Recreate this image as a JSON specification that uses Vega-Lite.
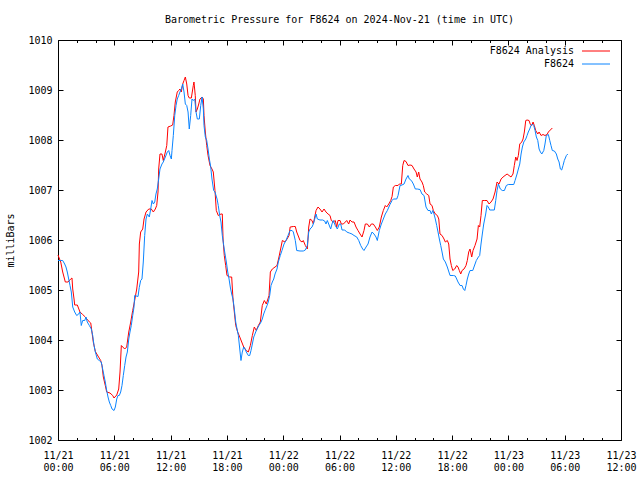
{
  "$schema": "https://vega.github.io/schema/vega-lite/v6.json",
  "autosize": "none",
  "width": 563,
  "height": 400,
  "padding": {"left": 58, "top": 40, "right": 19, "bottom": 40},
  "background": "white",
  "title": {"text": "Barometric Pressure for F8624 on 2024-Nov-21 (time in UTC)", "anchor": "middle", "offset": 10},
  "config": {
    "font": "DejaVu Sans Mono",
    "view": {"stroke": "#000000", "strokeWidth": 1},
    "title": {"font": "DejaVu Sans Mono", "fontSize": 10, "fontWeight": "normal", "color": "#000000"},
    "axis": {"labelFont": "DejaVu Sans Mono", "labelFontSize": 10, "labelColor": "#000000", "titleFont": "DejaVu Sans Mono", "titleFontSize": 10, "titleFontWeight": "normal", "titleColor": "#000000", "grid": false, "domain": false, "tickColor": "#000000", "tickWidth": 1, "labelFlush": false, "labelOverlap": false},
    "legend": {"labelFont": "DejaVu Sans Mono", "labelFontSize": 10, "labelColor": "#000000"}
  },
  "data": {"values": [
    {"s":"F8624 Analysis","t":0,"p":1005.70},{"s":"F8624 Analysis","t":0.29,"p":1005.56},{"s":"F8624 Analysis","t":0.50,"p":1005.36},{"s":"F8624 Analysis","t":0.78,"p":1005.16},{"s":"F8624 Analysis","t":1.07,"p":1005.16},{"s":"F8624 Analysis","t":1.35,"p":1005.22},{"s":"F8624 Analysis","t":1.49,"p":1005.24},{"s":"F8624 Analysis","t":1.57,"p":1005.02},{"s":"F8624 Analysis","t":1.71,"p":1004.82},{"s":"F8624 Analysis","t":1.78,"p":1004.70},{"s":"F8624 Analysis","t":2.06,"p":1004.70},{"s":"F8624 Analysis","t":2.34,"p":1004.56},{"s":"F8624 Analysis","t":2.63,"p":1004.51},{"s":"F8624 Analysis","t":2.91,"p":1004.46},{"s":"F8624 Analysis","t":3.20,"p":1004.39},{"s":"F8624 Analysis","t":3.49,"p":1004.34},{"s":"F8624 Analysis","t":3.62,"p":1004.16},{"s":"F8624 Analysis","t":3.76,"p":1003.96},{"s":"F8624 Analysis","t":3.98,"p":1003.77},{"s":"F8624 Analysis","t":4.26,"p":1003.68},{"s":"F8624 Analysis","t":4.55,"p":1003.59},{"s":"F8624 Analysis","t":4.69,"p":1003.49},{"s":"F8624 Analysis","t":4.83,"p":1003.26},{"s":"F8624 Analysis","t":5.04,"p":1003.09},{"s":"F8624 Analysis","t":5.19,"p":1002.96},{"s":"F8624 Analysis","t":5.54,"p":1002.94},{"s":"F8624 Analysis","t":5.83,"p":1002.89},{"s":"F8624 Analysis","t":5.97,"p":1002.84},{"s":"F8624 Analysis","t":6.26,"p":1002.90},{"s":"F8624 Analysis","t":6.47,"p":1003.02},{"s":"F8624 Analysis","t":6.61,"p":1003.36},{"s":"F8624 Analysis","t":6.75,"p":1003.89},{"s":"F8624 Analysis","t":7.11,"p":1003.82},{"s":"F8624 Analysis","t":7.32,"p":1003.86},{"s":"F8624 Analysis","t":7.54,"p":1004.16},{"s":"F8624 Analysis","t":7.75,"p":1004.36},{"s":"F8624 Analysis","t":7.96,"p":1004.59},{"s":"F8624 Analysis","t":8.17,"p":1004.79},{"s":"F8624 Analysis","t":8.39,"p":1005.02},{"s":"F8624 Analysis","t":8.60,"p":1005.36},{"s":"F8624 Analysis","t":8.67,"p":1005.92},{"s":"F8624 Analysis","t":8.81,"p":1006.16},{"s":"F8624 Analysis","t":9.03,"p":1006.22},{"s":"F8624 Analysis","t":9.17,"p":1006.42},{"s":"F8624 Analysis","t":9.38,"p":1006.56},{"s":"F8624 Analysis","t":9.67,"p":1006.62},{"s":"F8624 Analysis","t":9.94,"p":1006.62},{"s":"F8624 Analysis","t":10.16,"p":1006.56},{"s":"F8624 Analysis","t":10.37,"p":1006.62},{"s":"F8624 Analysis","t":10.52,"p":1006.69},{"s":"F8624 Analysis","t":10.66,"p":1006.96},{"s":"F8624 Analysis","t":10.73,"p":1007.42},{"s":"F8624 Analysis","t":10.87,"p":1007.72},{"s":"F8624 Analysis","t":11.08,"p":1007.72},{"s":"F8624 Analysis","t":11.22,"p":1007.59},{"s":"F8624 Analysis","t":11.44,"p":1007.76},{"s":"F8624 Analysis","t":11.59,"p":1007.89},{"s":"F8624 Analysis","t":11.72,"p":1008.26},{"s":"F8624 Analysis","t":12.01,"p":1008.28},{"s":"F8624 Analysis","t":12.22,"p":1008.30},{"s":"F8624 Analysis","t":12.36,"p":1008.49},{"s":"F8624 Analysis","t":12.50,"p":1008.76},{"s":"F8624 Analysis","t":12.71,"p":1008.96},{"s":"F8624 Analysis","t":12.86,"p":1008.99},{"s":"F8624 Analysis","t":13.00,"p":1009.02},{"s":"F8624 Analysis","t":13.14,"p":1008.96},{"s":"F8624 Analysis","t":13.29,"p":1009.12},{"s":"F8624 Analysis","t":13.43,"p":1009.19},{"s":"F8624 Analysis","t":13.57,"p":1009.26},{"s":"F8624 Analysis","t":13.72,"p":1009.12},{"s":"F8624 Analysis","t":13.86,"p":1008.89},{"s":"F8624 Analysis","t":13.99,"p":1008.84},{"s":"F8624 Analysis","t":14.21,"p":1008.84},{"s":"F8624 Analysis","t":14.42,"p":1009.09},{"s":"F8624 Analysis","t":14.49,"p":1009.16},{"s":"F8624 Analysis","t":14.63,"p":1008.89},{"s":"F8624 Analysis","t":14.71,"p":1008.56},{"s":"F8624 Analysis","t":14.85,"p":1008.62},{"s":"F8624 Analysis","t":15.00,"p":1008.72},{"s":"F8624 Analysis","t":15.13,"p":1008.82},{"s":"F8624 Analysis","t":15.35,"p":1008.86},{"s":"F8624 Analysis","t":15.49,"p":1008.82},{"s":"F8624 Analysis","t":15.56,"p":1008.49},{"s":"F8624 Analysis","t":15.70,"p":1008.16},{"s":"F8624 Analysis","t":15.85,"p":1007.89},{"s":"F8624 Analysis","t":15.99,"p":1007.69},{"s":"F8624 Analysis","t":16.20,"p":1007.49},{"s":"F8624 Analysis","t":16.41,"p":1007.42},{"s":"F8624 Analysis","t":16.55,"p":1007.36},{"s":"F8624 Analysis","t":16.73,"p":1006.99},{"s":"F8624 Analysis","t":16.87,"p":1006.59},{"s":"F8624 Analysis","t":17.08,"p":1006.49},{"s":"F8624 Analysis","t":17.37,"p":1006.52},{"s":"F8624 Analysis","t":17.51,"p":1006.52},{"s":"F8624 Analysis","t":17.59,"p":1006.02},{"s":"F8624 Analysis","t":17.72,"p":1005.69},{"s":"F8624 Analysis","t":17.87,"p":1005.49},{"s":"F8624 Analysis","t":18.01,"p":1005.29},{"s":"F8624 Analysis","t":18.30,"p":1005.26},{"s":"F8624 Analysis","t":18.51,"p":1005.26},{"s":"F8624 Analysis","t":18.65,"p":1004.82},{"s":"F8624 Analysis","t":18.79,"p":1004.56},{"s":"F8624 Analysis","t":18.94,"p":1004.29},{"s":"F8624 Analysis","t":19.15,"p":1004.16},{"s":"F8624 Analysis","t":19.37,"p":1004.06},{"s":"F8624 Analysis","t":19.58,"p":1003.96},{"s":"F8624 Analysis","t":19.79,"p":1003.86},{"s":"F8624 Analysis","t":20.07,"p":1003.79},{"s":"F8624 Analysis","t":20.28,"p":1003.76},{"s":"F8624 Analysis","t":20.50,"p":1003.89},{"s":"F8624 Analysis","t":20.71,"p":1004.09},{"s":"F8624 Analysis","t":20.92,"p":1004.26},{"s":"F8624 Analysis","t":21.13,"p":1004.19},{"s":"F8624 Analysis","t":21.35,"p":1004.29},{"s":"F8624 Analysis","t":21.56,"p":1004.36},{"s":"F8624 Analysis","t":21.77,"p":1004.69},{"s":"F8624 Analysis","t":21.99,"p":1004.79},{"s":"F8624 Analysis","t":22.20,"p":1004.72},{"s":"F8624 Analysis","t":22.49,"p":1004.89},{"s":"F8624 Analysis","t":22.63,"p":1005.36},{"s":"F8624 Analysis","t":22.84,"p":1005.42},{"s":"F8624 Analysis","t":23.13,"p":1005.46},{"s":"F8624 Analysis","t":23.34,"p":1005.49},{"s":"F8624 Analysis","t":23.55,"p":1005.66},{"s":"F8624 Analysis","t":23.77,"p":1005.86},{"s":"F8624 Analysis","t":23.91,"p":1005.99},{"s":"F8624 Analysis","t":24.19,"p":1005.96},{"s":"F8624 Analysis","t":24.41,"p":1006.02},{"s":"F8624 Analysis","t":24.62,"p":1006.09},{"s":"F8624 Analysis","t":24.74,"p":1006.26},{"s":"F8624 Analysis","t":25.08,"p":1006.27},{"s":"F8624 Analysis","t":25.29,"p":1006.27},{"s":"F8624 Analysis","t":25.44,"p":1006.16},{"s":"F8624 Analysis","t":25.65,"p":1006.06},{"s":"F8624 Analysis","t":25.79,"p":1005.99},{"s":"F8624 Analysis","t":26.01,"p":1005.96},{"s":"F8624 Analysis","t":26.14,"p":1005.99},{"s":"F8624 Analysis","t":26.36,"p":1005.89},{"s":"F8624 Analysis","t":26.57,"p":1005.82},{"s":"F8624 Analysis","t":26.72,"p":1006.26},{"s":"F8624 Analysis","t":26.86,"p":1006.42},{"s":"F8624 Analysis","t":27.07,"p":1006.39},{"s":"F8624 Analysis","t":27.21,"p":1006.32},{"s":"F8624 Analysis","t":27.36,"p":1006.46},{"s":"F8624 Analysis","t":27.50,"p":1006.59},{"s":"F8624 Analysis","t":27.71,"p":1006.66},{"s":"F8624 Analysis","t":27.92,"p":1006.62},{"s":"F8624 Analysis","t":28.14,"p":1006.56},{"s":"F8624 Analysis","t":28.35,"p":1006.62},{"s":"F8624 Analysis","t":28.56,"p":1006.56},{"s":"F8624 Analysis","t":28.78,"p":1006.52},{"s":"F8624 Analysis","t":28.99,"p":1006.49},{"s":"F8624 Analysis","t":29.13,"p":1006.39},{"s":"F8624 Analysis","t":29.34,"p":1006.36},{"s":"F8624 Analysis","t":29.55,"p":1006.39},{"s":"F8624 Analysis","t":29.70,"p":1006.26},{"s":"F8624 Analysis","t":29.84,"p":1006.39},{"s":"F8624 Analysis","t":30.06,"p":1006.39},{"s":"F8624 Analysis","t":30.19,"p":1006.32},{"s":"F8624 Analysis","t":30.41,"p":1006.32},{"s":"F8624 Analysis","t":30.62,"p":1006.36},{"s":"F8624 Analysis","t":30.77,"p":1006.39},{"s":"F8624 Analysis","t":30.98,"p":1006.32},{"s":"F8624 Analysis","t":31.12,"p":1006.40},{"s":"F8624 Analysis","t":31.33,"p":1006.36},{"s":"F8624 Analysis","t":31.55,"p":1006.36},{"s":"F8624 Analysis","t":31.76,"p":1006.26},{"s":"F8624 Analysis","t":31.97,"p":1006.19},{"s":"F8624 Analysis","t":32.19,"p":1006.12},{"s":"F8624 Analysis","t":32.40,"p":1006.06},{"s":"F8624 Analysis","t":32.61,"p":1006.19},{"s":"F8624 Analysis","t":32.75,"p":1006.32},{"s":"F8624 Analysis","t":32.97,"p":1006.32},{"s":"F8624 Analysis","t":33.18,"p":1006.26},{"s":"F8624 Analysis","t":33.39,"p":1006.32},{"s":"F8624 Analysis","t":33.60,"p":1006.32},{"s":"F8624 Analysis","t":33.82,"p":1006.26},{"s":"F8624 Analysis","t":34.03,"p":1006.19},{"s":"F8624 Analysis","t":34.24,"p":1006.26},{"s":"F8624 Analysis","t":34.46,"p":1006.46},{"s":"F8624 Analysis","t":34.67,"p":1006.59},{"s":"F8624 Analysis","t":34.88,"p":1006.69},{"s":"F8624 Analysis","t":35.03,"p":1006.66},{"s":"F8624 Analysis","t":35.25,"p":1006.72},{"s":"F8624 Analysis","t":35.46,"p":1006.79},{"s":"F8624 Analysis","t":35.60,"p":1006.87},{"s":"F8624 Analysis","t":35.74,"p":1007.06},{"s":"F8624 Analysis","t":35.95,"p":1007.09},{"s":"F8624 Analysis","t":36.24,"p":1007.09},{"s":"F8624 Analysis","t":36.38,"p":1007.12},{"s":"F8624 Analysis","t":36.59,"p":1007.12},{"s":"F8624 Analysis","t":36.74,"p":1007.49},{"s":"F8624 Analysis","t":36.88,"p":1007.59},{"s":"F8624 Analysis","t":37.09,"p":1007.57},{"s":"F8624 Analysis","t":37.30,"p":1007.49},{"s":"F8624 Analysis","t":37.52,"p":1007.50},{"s":"F8624 Analysis","t":37.73,"p":1007.49},{"s":"F8624 Analysis","t":37.94,"p":1007.42},{"s":"F8624 Analysis","t":38.16,"p":1007.36},{"s":"F8624 Analysis","t":38.29,"p":1007.26},{"s":"F8624 Analysis","t":38.44,"p":1007.36},{"s":"F8624 Analysis","t":38.58,"p":1007.22},{"s":"F8624 Analysis","t":38.79,"p":1007.16},{"s":"F8624 Analysis","t":38.93,"p":1007.09},{"s":"F8624 Analysis","t":39.08,"p":1006.96},{"s":"F8624 Analysis","t":39.30,"p":1006.92},{"s":"F8624 Analysis","t":39.51,"p":1006.89},{"s":"F8624 Analysis","t":39.65,"p":1006.72},{"s":"F8624 Analysis","t":39.86,"p":1006.69},{"s":"F8624 Analysis","t":40.00,"p":1006.59},{"s":"F8624 Analysis","t":40.21,"p":1006.52},{"s":"F8624 Analysis","t":40.43,"p":1006.49},{"s":"F8624 Analysis","t":40.58,"p":1006.42},{"s":"F8624 Analysis","t":40.71,"p":1006.12},{"s":"F8624 Analysis","t":40.93,"p":1006.09},{"s":"F8624 Analysis","t":41.14,"p":1006.02},{"s":"F8624 Analysis","t":41.28,"p":1005.96},{"s":"F8624 Analysis","t":41.49,"p":1005.99},{"s":"F8624 Analysis","t":41.64,"p":1005.92},{"s":"F8624 Analysis","t":41.78,"p":1005.62},{"s":"F8624 Analysis","t":41.92,"p":1005.49},{"s":"F8624 Analysis","t":42.07,"p":1005.39},{"s":"F8624 Analysis","t":42.28,"p":1005.42},{"s":"F8624 Analysis","t":42.49,"p":1005.49},{"s":"F8624 Analysis","t":42.63,"p":1005.46},{"s":"F8624 Analysis","t":42.77,"p":1005.39},{"s":"F8624 Analysis","t":42.92,"p":1005.32},{"s":"F8624 Analysis","t":43.06,"p":1005.39},{"s":"F8624 Analysis","t":43.27,"p":1005.42},{"s":"F8624 Analysis","t":43.48,"p":1005.49},{"s":"F8624 Analysis","t":43.62,"p":1005.59},{"s":"F8624 Analysis","t":43.77,"p":1005.76},{"s":"F8624 Analysis","t":43.91,"p":1005.82},{"s":"F8624 Analysis","t":44.09,"p":1005.66},{"s":"F8624 Analysis","t":44.23,"p":1005.79},{"s":"F8624 Analysis","t":44.44,"p":1005.89},{"s":"F8624 Analysis","t":44.66,"p":1006.02},{"s":"F8624 Analysis","t":44.80,"p":1006.29},{"s":"F8624 Analysis","t":44.94,"p":1006.26},{"s":"F8624 Analysis","t":45.08,"p":1006.49},{"s":"F8624 Analysis","t":45.22,"p":1006.79},{"s":"F8624 Analysis","t":45.43,"p":1006.79},{"s":"F8624 Analysis","t":45.72,"p":1006.79},{"s":"F8624 Analysis","t":45.94,"p":1006.72},{"s":"F8624 Analysis","t":46.15,"p":1006.76},{"s":"F8624 Analysis","t":46.36,"p":1006.82},{"s":"F8624 Analysis","t":46.58,"p":1006.96},{"s":"F8624 Analysis","t":46.79,"p":1007.16},{"s":"F8624 Analysis","t":47.00,"p":1007.12},{"s":"F8624 Analysis","t":47.22,"p":1007.22},{"s":"F8624 Analysis","t":47.43,"p":1007.26},{"s":"F8624 Analysis","t":47.64,"p":1007.29},{"s":"F8624 Analysis","t":47.86,"p":1007.32},{"s":"F8624 Analysis","t":48.07,"p":1007.29},{"s":"F8624 Analysis","t":48.28,"p":1007.26},{"s":"F8624 Analysis","t":48.49,"p":1007.32},{"s":"F8624 Analysis","t":48.63,"p":1007.49},{"s":"F8624 Analysis","t":48.78,"p":1007.66},{"s":"F8624 Analysis","t":48.92,"p":1007.59},{"s":"F8624 Analysis","t":49.06,"p":1007.69},{"s":"F8624 Analysis","t":49.21,"p":1007.92},{"s":"F8624 Analysis","t":49.42,"p":1007.96},{"s":"F8624 Analysis","t":49.56,"p":1008.02},{"s":"F8624 Analysis","t":49.70,"p":1008.16},{"s":"F8624 Analysis","t":49.85,"p":1008.39},{"s":"F8624 Analysis","t":49.99,"p":1008.40},{"s":"F8624 Analysis","t":50.20,"p":1008.39},{"s":"F8624 Analysis","t":50.34,"p":1008.31},{"s":"F8624 Analysis","t":50.49,"p":1008.29},{"s":"F8624 Analysis","t":50.63,"p":1008.36},{"s":"F8624 Analysis","t":50.76,"p":1008.29},{"s":"F8624 Analysis","t":50.91,"p":1008.19},{"s":"F8624 Analysis","t":51.13,"p":1008.12},{"s":"F8624 Analysis","t":51.27,"p":1008.16},{"s":"F8624 Analysis","t":51.48,"p":1008.09},{"s":"F8624 Analysis","t":51.69,"p":1008.11},{"s":"F8624 Analysis","t":51.90,"p":1008.09},{"s":"F8624 Analysis","t":52.12,"p":1008.11},{"s":"F8624 Analysis","t":52.26,"p":1008.16},{"s":"F8624 Analysis","t":52.47,"p":1008.20},{"s":"F8624 Analysis","t":52.68,"p":1008.24},
    {"s":"F8624","t":0,"p":1005.59},{"s":"F8624","t":0.29,"p":1005.59},{"s":"F8624","t":0.50,"p":1005.59},{"s":"F8624","t":0.71,"p":1005.52},{"s":"F8624","t":0.85,"p":1005.46},{"s":"F8624","t":0.99,"p":1005.36},{"s":"F8624","t":1.14,"p":1005.22},{"s":"F8624","t":1.28,"p":1005.09},{"s":"F8624","t":1.42,"p":1004.96},{"s":"F8624","t":1.57,"p":1004.66},{"s":"F8624","t":1.78,"p":1004.56},{"s":"F8624","t":1.99,"p":1004.49},{"s":"F8624","t":2.21,"p":1004.52},{"s":"F8624","t":2.34,"p":1004.56},{"s":"F8624","t":2.48,"p":1004.29},{"s":"F8624","t":2.63,"p":1004.39},{"s":"F8624","t":2.85,"p":1004.39},{"s":"F8624","t":2.98,"p":1004.46},{"s":"F8624","t":3.12,"p":1004.36},{"s":"F8624","t":3.34,"p":1004.29},{"s":"F8624","t":3.55,"p":1004.22},{"s":"F8624","t":3.70,"p":1004.09},{"s":"F8624","t":3.84,"p":1003.89},{"s":"F8624","t":3.98,"p":1003.76},{"s":"F8624","t":4.19,"p":1003.62},{"s":"F8624","t":4.40,"p":1003.59},{"s":"F8624","t":4.61,"p":1003.56},{"s":"F8624","t":4.76,"p":1003.42},{"s":"F8624","t":4.90,"p":1003.29},{"s":"F8624","t":5.04,"p":1003.16},{"s":"F8624","t":5.19,"p":1002.99},{"s":"F8624","t":5.33,"p":1002.86},{"s":"F8624","t":5.47,"p":1002.76},{"s":"F8624","t":5.62,"p":1002.69},{"s":"F8624","t":5.76,"p":1002.62},{"s":"F8624","t":5.97,"p":1002.59},{"s":"F8624","t":6.11,"p":1002.66},{"s":"F8624","t":6.26,"p":1002.82},{"s":"F8624","t":6.39,"p":1002.89},{"s":"F8624","t":6.53,"p":1002.89},{"s":"F8624","t":6.68,"p":1002.96},{"s":"F8624","t":6.82,"p":1003.09},{"s":"F8624","t":6.96,"p":1003.29},{"s":"F8624","t":7.11,"p":1003.49},{"s":"F8624","t":7.25,"p":1003.66},{"s":"F8624","t":7.39,"p":1003.76},{"s":"F8624","t":7.54,"p":1004.02},{"s":"F8624","t":7.67,"p":1004.16},{"s":"F8624","t":7.81,"p":1004.29},{"s":"F8624","t":7.96,"p":1004.49},{"s":"F8624","t":8.10,"p":1004.66},{"s":"F8624","t":8.17,"p":1004.89},{"s":"F8624","t":8.53,"p":1004.87},{"s":"F8624","t":8.66,"p":1005.05},{"s":"F8624","t":8.81,"p":1005.19},{"s":"F8624","t":8.95,"p":1005.22},{"s":"F8624","t":9.09,"p":1005.56},{"s":"F8624","t":9.24,"p":1006.09},{"s":"F8624","t":9.38,"p":1006.42},{"s":"F8624","t":9.52,"p":1006.52},{"s":"F8624","t":9.73,"p":1006.46},{"s":"F8624","t":9.88,"p":1006.62},{"s":"F8624","t":10.02,"p":1006.79},{"s":"F8624","t":10.16,"p":1006.72},{"s":"F8624","t":10.31,"p":1006.76},{"s":"F8624","t":10.44,"p":1006.92},{"s":"F8624","t":10.58,"p":1007.02},{"s":"F8624","t":10.73,"p":1007.22},{"s":"F8624","t":10.87,"p":1007.42},{"s":"F8624","t":11.08,"p":1007.52},{"s":"F8624","t":11.22,"p":1007.56},{"s":"F8624","t":11.44,"p":1007.66},{"s":"F8624","t":11.65,"p":1007.76},{"s":"F8624","t":11.80,"p":1007.79},{"s":"F8624","t":11.94,"p":1007.69},{"s":"F8624","t":12.08,"p":1007.62},{"s":"F8624","t":12.15,"p":1007.79},{"s":"F8624","t":12.29,"p":1008.09},{"s":"F8624","t":12.44,"p":1008.49},{"s":"F8624","t":12.58,"p":1008.69},{"s":"F8624","t":12.71,"p":1008.82},{"s":"F8624","t":12.86,"p":1008.89},{"s":"F8624","t":13.00,"p":1008.96},{"s":"F8624","t":13.14,"p":1009.02},{"s":"F8624","t":13.29,"p":1009.12},{"s":"F8624","t":13.43,"p":1008.96},{"s":"F8624","t":13.57,"p":1008.72},{"s":"F8624","t":13.72,"p":1008.69},{"s":"F8624","t":13.86,"p":1008.56},{"s":"F8624","t":13.99,"p":1008.22},{"s":"F8624","t":14.14,"p":1008.49},{"s":"F8624","t":14.28,"p":1008.82},{"s":"F8624","t":14.42,"p":1008.79},{"s":"F8624","t":14.57,"p":1008.82},{"s":"F8624","t":14.71,"p":1008.56},{"s":"F8624","t":14.85,"p":1008.42},{"s":"F8624","t":15.06,"p":1008.42},{"s":"F8624","t":15.21,"p":1008.69},{"s":"F8624","t":15.35,"p":1008.86},{"s":"F8624","t":15.49,"p":1008.62},{"s":"F8624","t":15.56,"p":1008.29},{"s":"F8624","t":15.70,"p":1008.06},{"s":"F8624","t":15.85,"p":1007.99},{"s":"F8624","t":15.99,"p":1007.82},{"s":"F8624","t":16.13,"p":1007.62},{"s":"F8624","t":16.27,"p":1007.47},{"s":"F8624","t":16.41,"p":1007.22},{"s":"F8624","t":16.59,"p":1006.99},{"s":"F8624","t":16.73,"p":1006.96},{"s":"F8624","t":16.95,"p":1006.82},{"s":"F8624","t":17.08,"p":1006.69},{"s":"F8624","t":17.23,"p":1006.49},{"s":"F8624","t":17.37,"p":1006.36},{"s":"F8624","t":17.51,"p":1006.09},{"s":"F8624","t":17.66,"p":1005.89},{"s":"F8624","t":17.80,"p":1005.72},{"s":"F8624","t":17.94,"p":1005.56},{"s":"F8624","t":18.09,"p":1005.36},{"s":"F8624","t":18.23,"p":1005.22},{"s":"F8624","t":18.36,"p":1005.06},{"s":"F8624","t":18.51,"p":1004.92},{"s":"F8624","t":18.65,"p":1004.82},{"s":"F8624","t":18.79,"p":1004.62},{"s":"F8624","t":18.94,"p":1004.36},{"s":"F8624","t":19.08,"p":1004.22},{"s":"F8624","t":19.22,"p":1004.09},{"s":"F8624","t":19.37,"p":1003.82},{"s":"F8624","t":19.50,"p":1003.59},{"s":"F8624","t":19.64,"p":1003.76},{"s":"F8624","t":19.79,"p":1003.86},{"s":"F8624","t":19.93,"p":1003.82},{"s":"F8624","t":20.07,"p":1003.76},{"s":"F8624","t":20.28,"p":1003.69},{"s":"F8624","t":20.43,"p":1003.69},{"s":"F8624","t":20.57,"p":1003.79},{"s":"F8624","t":20.71,"p":1003.92},{"s":"F8624","t":20.86,"p":1004.06},{"s":"F8624","t":21.07,"p":1004.16},{"s":"F8624","t":21.21,"p":1004.22},{"s":"F8624","t":21.42,"p":1004.29},{"s":"F8624","t":21.64,"p":1004.36},{"s":"F8624","t":21.77,"p":1004.42},{"s":"F8624","t":21.92,"p":1004.52},{"s":"F8624","t":22.06,"p":1004.59},{"s":"F8624","t":22.28,"p":1004.69},{"s":"F8624","t":22.41,"p":1004.76},{"s":"F8624","t":22.56,"p":1004.89},{"s":"F8624","t":22.70,"p":1005.09},{"s":"F8624","t":22.84,"p":1005.16},{"s":"F8624","t":22.99,"p":1005.22},{"s":"F8624","t":23.13,"p":1005.32},{"s":"F8624","t":23.34,"p":1005.42},{"s":"F8624","t":23.48,"p":1005.56},{"s":"F8624","t":23.69,"p":1005.69},{"s":"F8624","t":23.87,"p":1005.79},{"s":"F8624","t":24.09,"p":1005.92},{"s":"F8624","t":24.30,"p":1005.99},{"s":"F8624","t":24.51,"p":1006.09},{"s":"F8624","t":24.74,"p":1006.19},{"s":"F8624","t":24.95,"p":1006.19},{"s":"F8624","t":25.08,"p":1006.16},{"s":"F8624","t":25.29,"p":1005.99},{"s":"F8624","t":25.44,"p":1005.79},{"s":"F8624","t":25.79,"p":1005.78},{"s":"F8624","t":26.14,"p":1005.78},{"s":"F8624","t":26.36,"p":1005.80},{"s":"F8624","t":26.57,"p":1005.89},{"s":"F8624","t":26.72,"p":1006.16},{"s":"F8624","t":26.86,"p":1006.22},{"s":"F8624","t":27.07,"p":1006.26},{"s":"F8624","t":27.21,"p":1006.32},{"s":"F8624","t":27.36,"p":1006.42},{"s":"F8624","t":27.50,"p":1006.52},{"s":"F8624","t":27.64,"p":1006.42},{"s":"F8624","t":27.92,"p":1006.40},{"s":"F8624","t":28.21,"p":1006.40},{"s":"F8624","t":28.42,"p":1006.38},{"s":"F8624","t":28.56,"p":1006.32},{"s":"F8624","t":28.70,"p":1006.39},{"s":"F8624","t":28.85,"p":1006.32},{"s":"F8624","t":29.06,"p":1006.22},{"s":"F8624","t":29.20,"p":1006.32},{"s":"F8624","t":29.34,"p":1006.39},{"s":"F8624","t":29.55,"p":1006.29},{"s":"F8624","t":29.77,"p":1006.22},{"s":"F8624","t":29.98,"p":1006.32},{"s":"F8624","t":30.13,"p":1006.32},{"s":"F8624","t":30.27,"p":1006.20},{"s":"F8624","t":30.56,"p":1006.20},{"s":"F8624","t":30.77,"p":1006.16},{"s":"F8624","t":31.05,"p":1006.14},{"s":"F8624","t":31.33,"p":1006.12},{"s":"F8624","t":31.55,"p":1006.09},{"s":"F8624","t":31.84,"p":1006.06},{"s":"F8624","t":32.05,"p":1005.99},{"s":"F8624","t":32.26,"p":1005.89},{"s":"F8624","t":32.47,"p":1005.82},{"s":"F8624","t":32.61,"p":1005.79},{"s":"F8624","t":32.83,"p":1005.86},{"s":"F8624","t":33.04,"p":1005.92},{"s":"F8624","t":33.25,"p":1006.06},{"s":"F8624","t":33.47,"p":1006.16},{"s":"F8624","t":33.68,"p":1006.12},{"s":"F8624","t":33.89,"p":1006.06},{"s":"F8624","t":34.03,"p":1005.99},{"s":"F8624","t":34.24,"p":1006.19},{"s":"F8624","t":34.46,"p":1006.32},{"s":"F8624","t":34.67,"p":1006.42},{"s":"F8624","t":34.88,"p":1006.52},{"s":"F8624","t":35.10,"p":1006.59},{"s":"F8624","t":35.38,"p":1006.71},{"s":"F8624","t":35.60,"p":1006.79},{"s":"F8624","t":35.74,"p":1006.82},{"s":"F8624","t":36.10,"p":1006.82},{"s":"F8624","t":36.24,"p":1006.89},{"s":"F8624","t":36.45,"p":1007.09},{"s":"F8624","t":36.66,"p":1007.10},{"s":"F8624","t":36.88,"p":1007.12},{"s":"F8624","t":37.09,"p":1007.22},{"s":"F8624","t":37.30,"p":1007.29},{"s":"F8624","t":37.44,"p":1007.22},{"s":"F8624","t":37.66,"p":1007.19},{"s":"F8624","t":37.87,"p":1007.12},{"s":"F8624","t":38.08,"p":1007.02},{"s":"F8624","t":38.29,"p":1007.02},{"s":"F8624","t":38.58,"p":1007.01},{"s":"F8624","t":38.79,"p":1006.92},{"s":"F8624","t":39.01,"p":1006.89},{"s":"F8624","t":39.22,"p":1006.66},{"s":"F8624","t":39.43,"p":1006.59},{"s":"F8624","t":39.65,"p":1006.59},{"s":"F8624","t":39.79,"p":1006.52},{"s":"F8624","t":39.94,"p":1006.59},{"s":"F8624","t":40.07,"p":1006.52},{"s":"F8624","t":40.21,"p":1006.42},{"s":"F8624","t":40.36,"p":1006.29},{"s":"F8624","t":40.50,"p":1006.16},{"s":"F8624","t":40.64,"p":1006.02},{"s":"F8624","t":40.79,"p":1005.89},{"s":"F8624","t":40.93,"p":1005.76},{"s":"F8624","t":41.07,"p":1005.62},{"s":"F8624","t":41.28,"p":1005.56},{"s":"F8624","t":41.49,"p":1005.46},{"s":"F8624","t":41.78,"p":1005.29},{"s":"F8624","t":42.13,"p":1005.29},{"s":"F8624","t":42.34,"p":1005.28},{"s":"F8624","t":42.49,"p":1005.22},{"s":"F8624","t":42.63,"p":1005.16},{"s":"F8624","t":42.85,"p":1005.09},{"s":"F8624","t":43.06,"p":1005.09},{"s":"F8624","t":43.20,"p":1005.02},{"s":"F8624","t":43.35,"p":1004.99},{"s":"F8624","t":43.48,"p":1005.09},{"s":"F8624","t":43.62,"p":1005.22},{"s":"F8624","t":43.77,"p":1005.32},{"s":"F8624","t":43.91,"p":1005.39},{"s":"F8624","t":44.20,"p":1005.39},{"s":"F8624","t":44.58,"p":1005.59},{"s":"F8624","t":44.80,"p":1005.66},{"s":"F8624","t":44.94,"p":1005.69},{"s":"F8624","t":45.08,"p":1005.92},{"s":"F8624","t":45.22,"p":1006.12},{"s":"F8624","t":45.37,"p":1006.32},{"s":"F8624","t":45.58,"p":1006.52},{"s":"F8624","t":45.72,"p":1006.69},{"s":"F8624","t":45.86,"p":1006.66},{"s":"F8624","t":46.01,"p":1006.60},{"s":"F8624","t":46.50,"p":1006.60},{"s":"F8624","t":46.65,"p":1006.79},{"s":"F8624","t":46.79,"p":1006.99},{"s":"F8624","t":46.93,"p":1007.12},{"s":"F8624","t":47.14,"p":1007.02},{"s":"F8624","t":47.35,"p":1006.99},{"s":"F8624","t":47.57,"p":1006.99},{"s":"F8624","t":47.78,"p":1007.09},{"s":"F8624","t":47.99,"p":1007.11},{"s":"F8624","t":48.57,"p":1007.11},{"s":"F8624","t":48.71,"p":1007.19},{"s":"F8624","t":48.92,"p":1007.32},{"s":"F8624","t":49.06,"p":1007.42},{"s":"F8624","t":49.21,"p":1007.52},{"s":"F8624","t":49.35,"p":1007.72},{"s":"F8624","t":49.49,"p":1007.86},{"s":"F8624","t":49.64,"p":1007.96},{"s":"F8624","t":49.85,"p":1008.02},{"s":"F8624","t":49.99,"p":1008.09},{"s":"F8624","t":50.12,"p":1008.16},{"s":"F8624","t":50.27,"p":1008.22},{"s":"F8624","t":50.41,"p":1008.29},{"s":"F8624","t":50.55,"p":1008.32},{"s":"F8624","t":50.70,"p":1008.29},{"s":"F8624","t":50.84,"p":1008.19},{"s":"F8624","t":50.98,"p":1008.06},{"s":"F8624","t":51.13,"p":1007.99},{"s":"F8624","t":51.27,"p":1007.82},{"s":"F8624","t":51.41,"p":1007.76},{"s":"F8624","t":51.56,"p":1007.72},{"s":"F8624","t":51.77,"p":1007.79},{"s":"F8624","t":51.90,"p":1007.92},{"s":"F8624","t":52.04,"p":1008.09},{"s":"F8624","t":52.26,"p":1008.11},{"s":"F8624","t":52.41,"p":1007.99},{"s":"F8624","t":52.54,"p":1007.89},{"s":"F8624","t":52.68,"p":1007.79},{"s":"F8624","t":52.90,"p":1007.78},{"s":"F8624","t":53.11,"p":1007.72},{"s":"F8624","t":53.26,"p":1007.62},{"s":"F8624","t":53.40,"p":1007.56},{"s":"F8624","t":53.54,"p":1007.42},{"s":"F8624","t":53.68,"p":1007.40},{"s":"F8624","t":53.82,"p":1007.49},{"s":"F8624","t":53.96,"p":1007.59},{"s":"F8624","t":54.18,"p":1007.69},{"s":"F8624","t":54.33,"p":1007.72}
  ]},
  "layer": [
    {
      "transform": [{"filter": "datum.s === 'F8624 Analysis'"}],
      "mark": {"type": "line", "strokeWidth": 1, "interpolate": "linear"},
      "encoding": {
        "x": {"field": "t", "type": "quantitative", "scale": {"domain": [0, 60], "nice": false, "zero": false},
          "axis": {"orient": "bottom", "title": null, "values": [0,2,4,6,8,10,12,14,16,18,20,22,24,26,28,30,32,34,36,38,40,42,44,46,48,50,52,54,56,58,60],
            "tickSize": {"condition": {"test": "datum.value % 6 === 0", "value": -5}, "value": -2.5},
            "labelPadding": 15, "labelLineHeight": 12, "labelBaseline": "top",
            "labelExpr": "datum.value % 6 === 0 ? ['11/' + (21 + floor(datum.value / 24)), (datum.value % 24 < 10 ? '0' : '') + (datum.value % 24) + ':00'] : ''"}},
        "y": {"field": "p", "type": "quantitative", "scale": {"domain": [1002, 1010], "nice": false, "zero": false},
          "axis": {"orient": "left", "title": "milliBars", "values": [1002,1003,1004,1005,1006,1007,1008,1009,1010], "tickSize": -5, "labelPadding": 11, "titlePadding": 12, "format": "d"}},
        "color": {"field": "s", "type": "nominal", "scale": {"domain": ["F8624 Analysis", "F8624"], "range": ["#ff0000", "#0a84ff"]},
          "legend": {"orient": "none", "legendX": 533, "legendY": 6, "title": null, "symbolType": "M-4,0H4", "symbolSize": 49, "symbolStrokeWidth": 1, "symbolFillColor": "transparent", "labelAlign": "right", "labelOffset": -27, "rowPadding": 3, "padding": 0}}
      }
    },
    {
      "transform": [{"filter": "datum.s === 'F8624'"}],
      "mark": {"type": "line", "strokeWidth": 1, "interpolate": "linear"},
      "encoding": {
        "x": {"field": "t", "type": "quantitative", "scale": {"domain": [0, 60], "nice": false, "zero": false},
          "axis": {"orient": "top", "title": null, "labels": false, "values": [0,2,4,6,8,10,12,14,16,18,20,22,24,26,28,30,32,34,36,38,40,42,44,46,48,50,52,54,56,58,60],
            "tickSize": {"condition": {"test": "datum.value % 6 === 0", "value": -5}, "value": -2.5}}},
        "y": {"field": "p", "type": "quantitative", "scale": {"domain": [1002, 1010], "nice": false, "zero": false},
          "axis": {"orient": "right", "title": null, "labels": false, "values": [1002,1003,1004,1005,1006,1007,1008,1009,1010], "tickSize": -5}},
        "color": {"field": "s", "type": "nominal", "scale": {"domain": ["F8624 Analysis", "F8624"], "range": ["#ff0000", "#0a84ff"]}}
      }
    }
  ],
  "resolve": {"axis": {"x": "independent", "y": "independent"}}
}
